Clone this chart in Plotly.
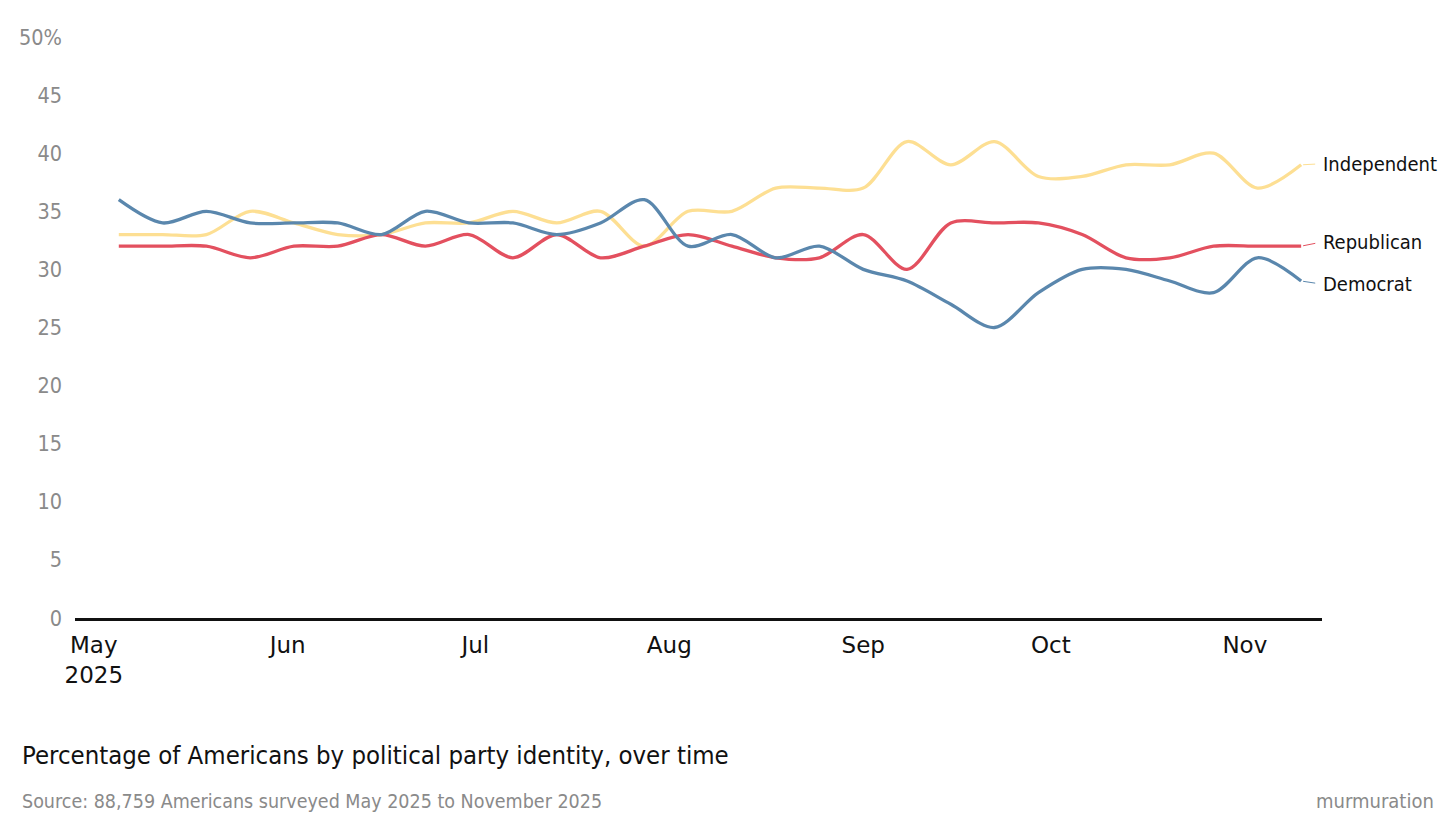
import pandas as pd
import plotly.graph_objects as go

# Weekly survey waves (first wave week of May 5, 2025; 28 waves)
dates = pd.date_range("2025-05-05", periods=28, freq="7D")

independent = [33, 33, 33, 35, 34, 33, 33, 34, 34, 35, 34, 35, 32, 35,
               35, 37, 37, 37, 41, 39, 41, 38, 38, 39, 39, 40, 37, 39]
republican = [32, 32, 32, 31, 32, 32, 33, 32, 33, 31, 33, 31, 32, 33,
              32, 31, 31, 33, 30, 34, 34, 34, 33, 31, 31, 32, 32, 32]
democrat = [36, 34, 35, 34, 34, 34, 33, 35, 34, 34, 33, 34, 36, 32,
            33, 31, 32, 30, 29, 27, 25, 28, 30, 30, 29, 28, 31, 29]

series_names = ["Independent", "Republican", "Democrat"]
series_values = [independent, republican, democrat]
series_colors = ["#fddf93", "#e3505f", "#5a87ad"]
label_offsets = [-1, -4, 3]  # vertical pixel nudge of end labels

y_tickvals = [0, 5, 10, 15, 20, 25, 30, 35, 40, 45, 50]
y_ticktext = ["0", "5", "10", "15", "20", "25", "30", "35", "40", "45", "50%"]

x_tickvals = ["2025-05-01", "2025-06-01", "2025-07-01", "2025-08-01",
              "2025-09-01", "2025-10-01", "2025-11-01"]
x_ticktext = ["May<br>2025", "Jun", "Jul", "Aug", "Sep", "Oct", "Nov"]

title_text = "Percentage of Americans by political party identity, over time"
source_text = "Source: 88,759 Americans surveyed May 2025 to November 2025"
brand_text = "murmuration"

COND = "DejaVu Sans Condensed, Liberation Sans Narrow, sans-serif"

fig = go.Figure()
for name, vals, col in zip(series_names, series_values, series_colors):
    fig.add_trace(go.Scatter(
        x=dates, y=vals, mode="lines", name=name,
        line=dict(color=col, width=3.3, shape="spline", smoothing=0.9),
        hoverinfo="skip", showlegend=False,
    ))

for name, vals, col, off in zip(series_names, series_values, series_colors, label_offsets):
    fig.add_annotation(
        x=dates[-1], y=vals[-1], xref="x", yref="y",
        text=name, showarrow=True, arrowhead=0, arrowwidth=1,
        arrowcolor=col, ax=20, ay=off, xanchor="left", yanchor="middle",
        standoff=2, startstandoff=6,
        font=dict(family=COND, size=20, color="#111111"),
    )

fig.add_annotation(
    xref="paper", yref="paper", x=-0.0441, y=-0.236,
    xanchor="left", yanchor="middle", showarrow=False,
    text=title_text, font=dict(family=COND, size=25.5, color="#111111"),
)
fig.add_annotation(
    xref="paper", yref="paper", x=-0.0441, y=-0.315,
    xanchor="left", yanchor="middle", showarrow=False,
    text=source_text, font=dict(family=COND, size=19.5, color="#8a8a8a"),
)
fig.add_annotation(
    xref="paper", yref="paper", x=1.0914, y=-0.315,
    xanchor="right", yanchor="middle", showarrow=False,
    text=brand_text, font=dict(family=COND, size=20, color="#8a8a8a"),
)

fig.update_layout(
    width=1456, height=837,
    margin=dict(l=75, r=134, t=37, b=219),
    paper_bgcolor="white", plot_bgcolor="white",
    xaxis=dict(
        type="date",
        range=["2025-04-28", "2025-11-13 08:00"],
        tickvals=x_tickvals, ticktext=x_ticktext,
        showgrid=False, zeroline=False,
        showline=True, linecolor="#111111", linewidth=3,
        ticks="", ticklabelstandoff=4,
        tickfont=dict(family="DejaVu Sans, sans-serif", size=23, color="#111111"),
    ),
    yaxis=dict(
        range=[0, 50],
        tickvals=y_tickvals, ticktext=y_ticktext,
        showgrid=False, zeroline=False, showline=False,
        ticks="", ticklabelstandoff=12,
        tickfont=dict(family=COND, size=21.5, color="#8a8a8a"),
    ),
)

fig.write_html(
    "out.html",
    config={"displayModeBar": False},
    post_script="document.body.style.margin='0';document.body.style.overflow='hidden';",
)
